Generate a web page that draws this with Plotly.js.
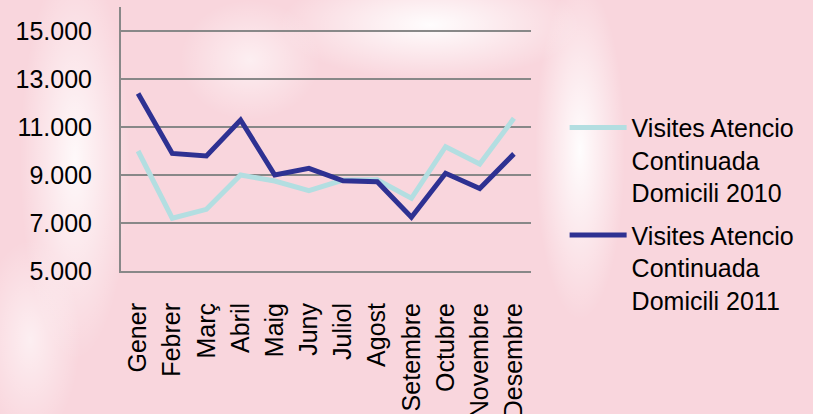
<!DOCTYPE html>
<html>
<head>
<meta charset="utf-8">
<script src="https://cdn.plot.ly/plotly-3.0.1.min.js"></script>
<style>
html,body{margin:0;padding:0;}
body{
  width:813px;height:414px;overflow:hidden;
  background:
    radial-gradient(ellipse 150px 55px at 430px 25px, rgba(255,255,255,0.95), rgba(255,255,255,0) 100%),
    radial-gradient(ellipse 45px 170px at 580px 150px, rgba(255,255,255,0.95), rgba(255,255,255,0) 100%),
    radial-gradient(ellipse 55px 200px at 75px 160px, rgba(255,255,255,0.85), rgba(255,255,255,0) 100%),
    radial-gradient(ellipse 70px 60px at 250px 60px, rgba(255,255,255,0.6), rgba(255,255,255,0) 100%),
    radial-gradient(ellipse 50px 100px at 30px 340px, rgba(255,255,255,0.6), rgba(255,255,255,0) 100%),
    #F9D6DD;
}
#chart{width:813px;height:414px;}
</style>
</head>
<body>
<div id="chart"></div>
<script>
const months = ["Gener","Febrer","Març","Abril","Maig","Juny","Juliol","Agost","Setembre","Octubre","Novembre","Desembre"];
const visites2010 = [10000, 7200, 7570, 9000, 8750, 8350, 8790, 8800, 8030, 10180, 9460, 11360];
const visites2011 = [12400, 9900, 9790, 11290, 9000, 9280, 8760, 8720, 7240, 9070, 8440, 9880];
const name2010 = "Visites Atencio<br>Continuada<br>Domicili 2010";
const name2011 = "Visites Atencio<br>Continuada<br>Domicili 2011";
const yTicks = [5000, 7000, 9000, 11000, 13000, 15000];
const yTickText = ["5.000","7.000","9.000","11.000","13.000","15.000"];

const traces = [
  {x: months, y: visites2010, name: name2010, type: "scatter", mode: "lines",
   legendgroup: "a", line: {color: "#B3DEE1", width: 5}},
  {x: months, y: visites2011, name: name2011, type: "scatter", mode: "lines",
   legendgroup: "b", line: {color: "#2E3192", width: 5}}
];

const layout = {
  width: 813, height: 414,
  margin: {l: 121, r: 282, t: 7, b: 143},
  paper_bgcolor: "rgba(0,0,0,0)",
  plot_bgcolor: "rgba(0,0,0,0)",
  font: {family: "Liberation Sans, Arial, sans-serif", color: "#000"},
  showlegend: true,
  xaxis: {
    type: "category",
    range: [-0.5, 11.5],
    tickangle: -90,
    tickfont: {size: 25, color: "#000"},
    ticklabelstandoff: 20,
    showgrid: false,
    showline: true, linecolor: "#888", linewidth: 2,
    ticks: "", zeroline: false
  },
  yaxis: {
    range: [5000, 16000],
    tickvals: yTicks, ticktext: yTickText,
    tickfont: {size: 25, color: "#000"},
    ticklabelstandoff: 22,
    showgrid: true, gridcolor: "#888", gridwidth: 2,
    showline: true, linecolor: "#888", linewidth: 2,
    ticks: "", zeroline: false
  },
  legend: {
    x: 1.082, xanchor: "left",
    y: 0.63, yanchor: "top",
    valign: "top",
    font: {size: 25, color: "#000"},
    bgcolor: "rgba(0,0,0,0)",
    itemwidth: 57,
    tracegroupgap: 7
  }
};

Plotly.newPlot("chart", traces, layout, {displayModeBar: false, staticPlot: true});
</script>
</body>
</html>
